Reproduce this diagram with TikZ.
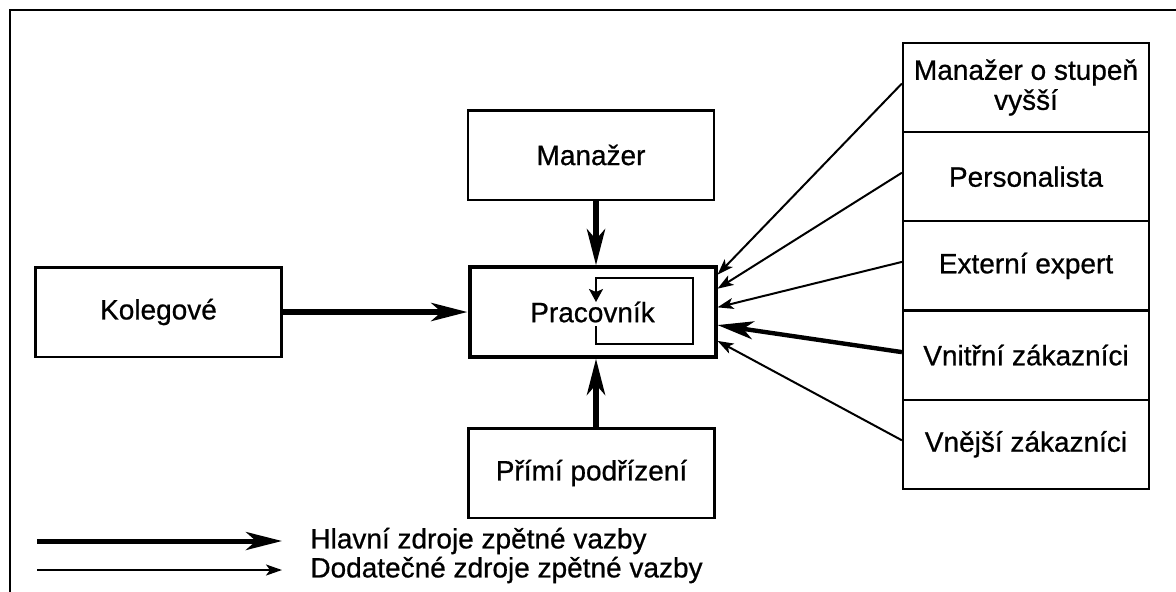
\documentclass[tikz,border=0pt]{standalone}
\usepackage{fontspec}
\setmainfont{Liberation Sans}[FakeBold=0.7]
\usetikzlibrary{arrows.meta,calc,positioning}

\tikzset{
  box/.style={draw,line width=1.1pt,minimum width=123pt,minimum height=44.6pt,inner sep=2pt,align=center,font=\fontsize{14}{15}\selectfont},
  main/.style={line width=3pt,-{Stealth[length=18pt,width=9pt,inset=5pt]}},
  minor/.style={line width=1pt,-{Stealth[length=8pt,width=5.5pt,inset=2pt]}},
  legtext/.style={anchor=west,inner sep=0pt,font=\fontsize{14}{15}\selectfont}
}

\begin{document}
\begin{tikzpicture}[x=0.5pt,y=-0.5pt]
  \useasboundingbox (0,0) rectangle (1176,591);
  % frame
  \draw[line width=1pt] (10,600) -- (10,10) -- (1180,10);

  % centre
  \node[box,line width=2pt] (prac) at (592.5,312) {Pracovník};
  \node[box] (mgr) at (591,155) {Manažer};
  \node[box] (pod) at (591.5,473) {Přímí podřízení};
  \node[box] (kol) at (158.5,312) {Kolegové};

  % right column
  \node[box] (mgr2) at (1026,87.5) {Manažer o stupeň\\vyšší};
  \node[box,below=-1.1pt of mgr2] (pers) {Personalista};
  \node[box,below=-1.1pt of pers] (ext) {Externí expert};
  \node[box,below=-1.1pt of ext] (vnit) {Vnitřní zákazníci};
  \node[box,below=-1.1pt of vnit] (vnej) {Vnější zákazníci};

  % self-assessment loop
  \coordinate (inx) at ($(prac.center)+(3.5,0)$);
  \draw[line width=1pt,-{Stealth[length=6.5pt,width=7pt,inset=1.5pt]}]
    ($(prac.center)+(3.5,14)$) -- ($(prac.center)+(3.5,32)$) -- ($(prac.center)+(100.5,32)$)
    -- ($(prac.center)+(100.5,-34)$) -- ($(prac.center)+(3.5,-34)$) -- ($(prac.center)+(3.5,-10)$);

  % main sources
  \draw[main] (mgr.south -| inx) -- (prac.north -| inx);
  \draw[main] (pod.north -| inx) -- (prac.south -| inx);
  \draw[main] (kol.east) -- (prac.west);
  \draw[main,line width=2.2pt] ([yshift=1.5pt]vnit.west) -- ($(prac.north east)!0.64!(prac.south east)$);

  % other sources
  \foreach \src/\f in {mgr2/0.10,pers/0.25,ext/0.45,vnej/0.81}
    \draw[minor] ([yshift=2pt]\src.west) -- ($(prac.north east)!\f!(prac.south east)$);

  % legend
  \node[legtext] (leg1) at (310,541) {Hlavní zdroje zpětné vazby};
  \node[legtext] (leg2) at (310,570) {Dodatečné zdroje zpětné vazby};
  \coordinate (l1) at (37,541);
  \coordinate (l2) at (37,570);
  \draw[main,line width=2.5pt] (l1) -- ([xshift=-14pt]leg1.west);
  \draw[minor] (l2) -- ([xshift=-14pt]leg2.west);
\end{tikzpicture}
\end{document}
